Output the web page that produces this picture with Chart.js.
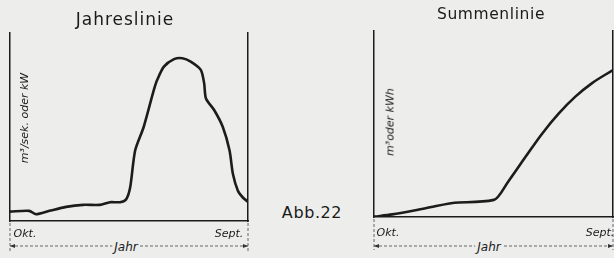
<!DOCTYPE html>
<html lang="de">
<head>
<meta charset="UTF-8" />
<title>Abb. 22 – Jahreslinie und Summenlinie</title>
<script src="https://cdn.jsdelivr.net/npm/chart.js"></script>
<style>
  html, body { margin: 0; padding: 0; }
  body { width: 614px; height: 258px; background: #ededeb; position: relative; overflow: hidden;
         font-family: "DejaVu Sans", sans-serif; color: #1a1a1a; }
  canvas { position: absolute; top: 0; }
  #c1 { left: 0; }
  #c2 { left: 355px; }
  .t { position: absolute; transform: translate(-50%, -50%); white-space: nowrap; }
  .title { font-size: 15.5px; letter-spacing: 0.6px; }
  .ax { font-size: 11px; font-style: italic; }
  .ylab { font-size: 11px; font-style: italic; transform: translate(-50%, -50%) rotate(-90deg); }
  .jahr { font-size: 12px; font-style: italic; background: #ededeb; padding: 0 2px; }
</style>
</head>
<body>
  <canvas id="c1" width="260" height="258"></canvas>
  <canvas id="c2" width="259" height="258"></canvas>

  <div class="t title" style="left:125px; top:19px; font-size:17px; letter-spacing:1px;">Jahreslinie</div>
  <div class="t title" style="left:491px; top:14px;">Summenlinie</div>
  <div class="t title" style="left:312px; top:212px; font-size:16px;">Abb.22</div>

  <div class="t ylab" style="left:24px; top:118px;">m³/sek. oder kW</div>
  <div class="t ylab" style="left:390px; top:122px;">m³oder kWh</div>

  <div class="t ax" style="left:25px; top:233px;">Okt.</div>
  <div class="t ax" style="left:229px; top:233px;">Sept.</div>
  <div class="t ax" style="left:388px; top:232px;">Okt.</div>
  <div class="t ax" style="left:600px; top:232px;">Sept.</div>

  <div class="t jahr" style="left:126px; top:247px;">Jahr</div>
  <div class="t jahr" style="left:489px; top:247px;">Jahr</div>

<script>
  // Jahreslinie: Abfluss über das Jahr (Monate ab Oktober, relative Höhe 0..100)
  const jahresMonate = [0, 0.97, 1.31, 1.99, 2.83, 3.68, 4.53, 5.04, 5.55, 5.86, 6.06, 6.31, 6.74, 7.25,
                        7.42, 7.76, 8.27, 8.69, 9.11, 9.62, 9.79, 9.88, 10.3, 10.73, 11.07, 11.24, 11.49, 11.74, 12];
  const jahresWerte  = [5.0, 5.4, 3.6, 5.4, 7.5, 8.6, 8.6, 10.0, 10.0, 11.6, 17.9, 37.5, 50, 69.6,
                        75, 82.1, 86.1, 86.6, 84.8, 80.4, 73.2, 65.2, 58.9, 50, 37.5, 25, 16.1, 12.5, 10.2];

  // Summenlinie: aufsummierte Menge
  const summenMonate = [0, 0.92, 2.59, 4.26, 6.02, 6.77, 7.6, 8.44, 9.28, 10.11, 10.95, 12];
  const summenWerte  = [0.2, 1.4, 4.7, 7.8, 9.2, 19.5, 32.2, 44.8, 55.7, 64.7, 72.0, 79.0];

  const ink = '#1c1c1c';

  // gestrichelte Maßlinie "Jahr" unter der x-Achse
  const jahrPfeil = {
    id: 'jahrPfeil',
    afterDraw(chart, args, opts) {
      const { ctx, scales } = chart;
      const x0 = scales.x.getPixelForValue(0);
      const x1 = scales.x.getPixelForValue(12);
      const yb = chart.chartArea.bottom;
      ctx.save();
      ctx.strokeStyle = '#444';
      ctx.lineWidth = 0.8;
      ctx.setLineDash([3, 2]);
      ctx.beginPath();
      ctx.moveTo(x0, yb + 2); ctx.lineTo(x0, opts.yEnd);
      ctx.moveTo(x1, yb + 2); ctx.lineTo(x1, opts.yEnd);
      ctx.moveTo(x0, opts.yLine); ctx.lineTo(x1, opts.yLine);
      ctx.stroke();
      ctx.setLineDash([]);
      ctx.fillStyle = '#333';
      ctx.beginPath();
      ctx.moveTo(x0, opts.yLine); ctx.lineTo(x0 + 5, opts.yLine - 2); ctx.lineTo(x0 + 5, opts.yLine + 2);
      ctx.closePath();
      ctx.moveTo(x1, opts.yLine); ctx.lineTo(x1 - 5, opts.yLine - 2); ctx.lineTo(x1 - 5, opts.yLine + 2);
      ctx.closePath();
      ctx.fill();
      ctx.restore();
    }
  };

  function makeChart(id, xs, ys, padding, lineOpts, pfeil) {
    const axis = (pos) => ({
      position: pos,
      min: 0, max: 100,
      ticks: { display: false },
      grid: { display: false, drawTicks: false },
      border: { display: true, color: ink, width: 1.5 }
    });
    return new Chart(document.getElementById(id), {
      type: 'line',
      data: {
        datasets: [Object.assign({
          data: xs.map((x, i) => ({ x: x, y: ys[i] })),
          borderColor: ink,
          borderWidth: 2.6,
          pointRadius: 0,
          fill: false
        }, lineOpts)]
      },
      options: {
        responsive: false,
        animation: false,
        layout: { padding: padding },
        plugins: { legend: { display: false }, tooltip: { enabled: false }, jahrPfeil: pfeil },
        scales: {
          x: {
            type: 'linear', min: 0, max: 12,
            ticks: { display: false },
            grid: { display: false, drawTicks: false },
            border: { display: true, color: ink, width: 1.5 }
          },
          y: axis('left'),
          y2: axis('right')
        }
      },
      plugins: [jahrPfeil]
    });
  }

  makeChart('c1', jahresMonate, jahresWerte,
            { left: 10, right: 12, top: 33, bottom: 37 },
            { tension: 0.25 },
            { yLine: 246, yEnd: 251 });

  makeChart('c2', summenMonate, summenWerte,
            { left: 19, right: 1, top: 31, bottom: 41 },
            { cubicInterpolationMode: 'monotone' },
            { yLine: 246, yEnd: 250 });
</script>
</body>
</html>
